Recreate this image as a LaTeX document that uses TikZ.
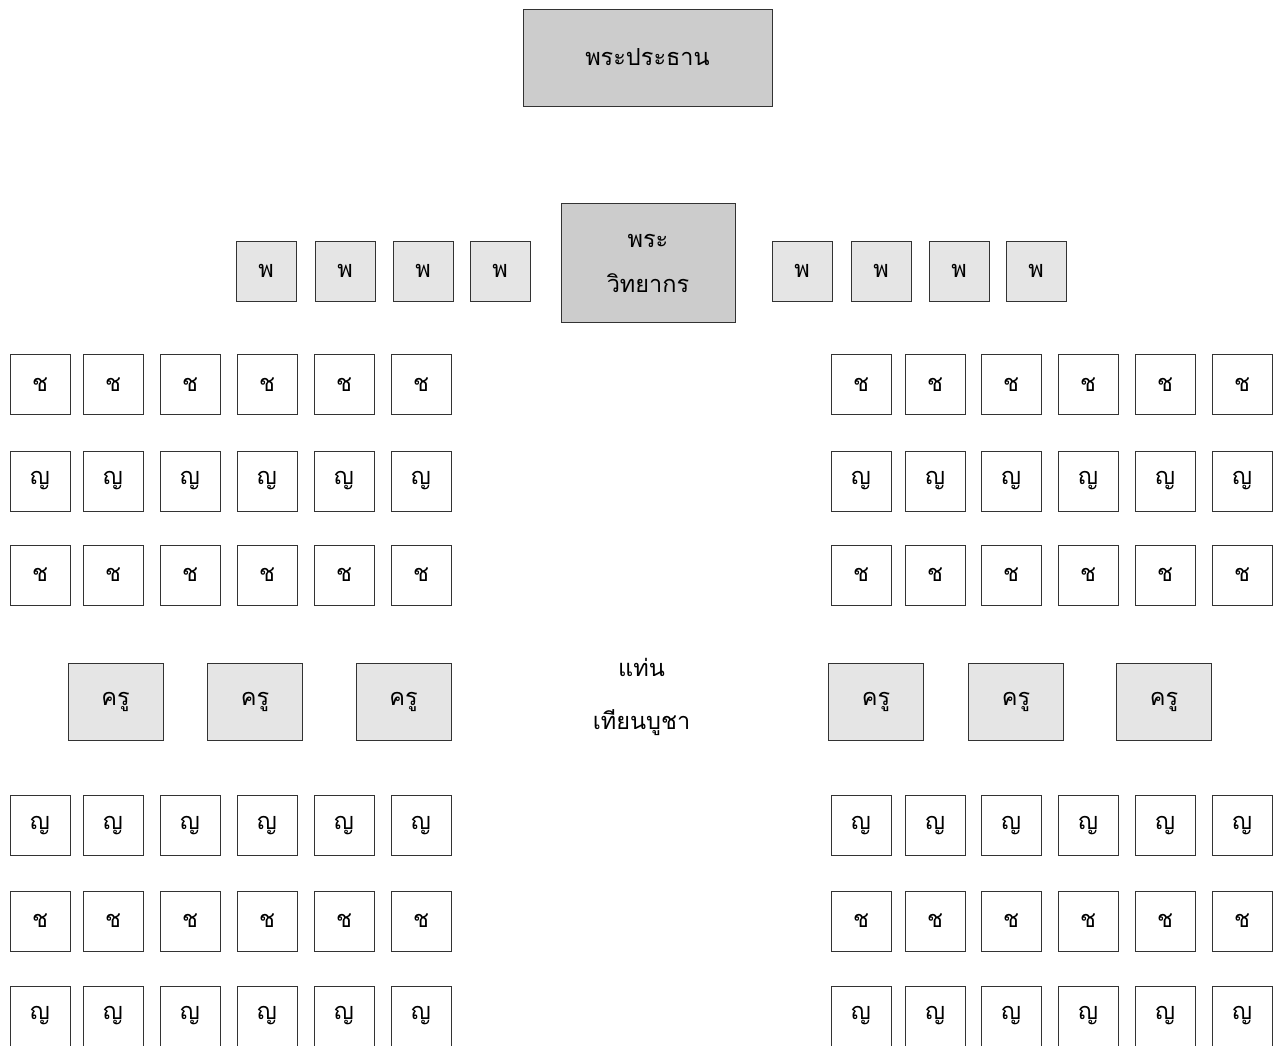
\documentclass[tikz,border=0pt]{standalone}
\usepackage{fontspec}
\newfontfamily\thaifont[Script=Thai]{Loma}
\begin{document}
\begin{tikzpicture}[x=1pt,y=-1pt,
  every node/.style={font=\thaifont\fontsize{23.5}{45}\selectfont, inner sep=0pt, line width=0.9pt, draw=black!80},
  seat/.style={draw, fill=white, minimum width=60pt, minimum height=60pt},
  monk/.style={draw, fill=black!10, minimum width=60pt, minimum height=60pt},
  teacher/.style={draw, fill=black!10, minimum width=95pt, minimum height=77pt},
  chief/.style={draw, fill=black!20},
  plain/.style={draw=none, align=center}]
\useasboundingbox (0,0) rectangle (1277,1045);
% presiding Buddha image and speaker monk
\node[chief, minimum width=249pt, minimum height=97pt] (buddha) at (647.5,57.5) {พระประธาน};
\node[chief, minimum width=174pt, minimum height=119pt, align=center] (speaker) at (648,263) {พระ\\วิทยากร};
% monks
\foreach \x [count=\i] in {266,345,423,500} {\node[monk] (pl\i) at (\x,271) {พ};}
\foreach \x [count=\i] in {802,881,959,1036} {\node[monk] (pr\i) at (\x,271) {พ};}
% students
\foreach \y/\t [count=\r] in {384.5/ช,481/ญ,575/ช,825.5/ญ,921/ช,1016/ญ} {
  \foreach \x [count=\i] in {40,113,190,267,344,421} {\node[seat] (sl\r-\i) at (\x,\y) {\t};}
  \foreach \x [count=\i] in {861,935,1011,1088,1165,1242} {\node[seat] (sr\r-\i) at (\x,\y) {\t};}
}
% teachers
\foreach \x [count=\i] in {115.5,255,403.5} {\node[teacher] (tl\i) at (\x,701.5) {ครู};}
\foreach \x [count=\i] in {876,1016,1164} {\node[teacher] (tr\i) at (\x,701.5) {ครู};}
% altar
\node[plain, font=\thaifont\fontsize{23.5}{53}\selectfont] (altar) at (641.5,697) {แท่น\\เทียนบูชา};
\end{tikzpicture}
\end{document}
